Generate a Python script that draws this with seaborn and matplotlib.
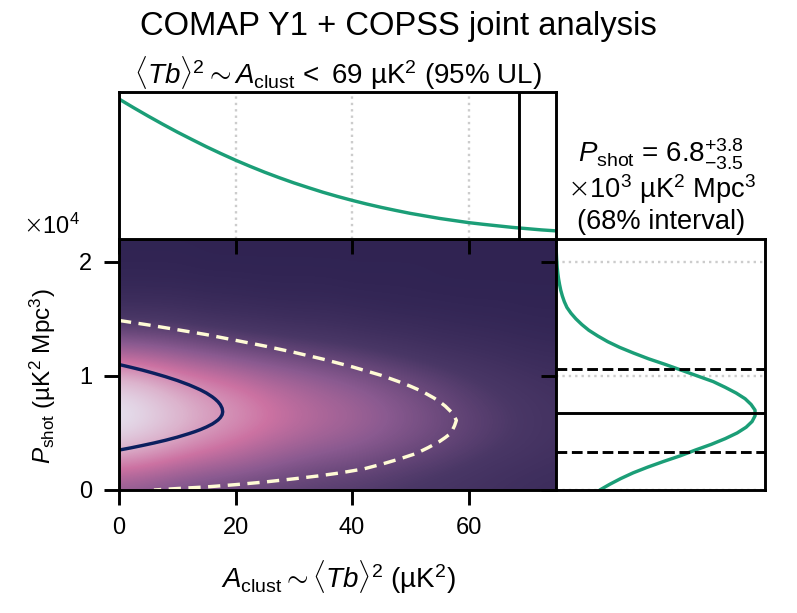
import numpy as np
import matplotlib
matplotlib.use('Agg')
import matplotlib.pyplot as plt
import seaborn as sns

# 1D marginal for A_clust (normalised)
a_grid = [0, 2.5, 5, 7.5, 10, 12.5, 15, 17.5, 20, 22.5, 25, 27.5, 30, 32.5, 35, 37.5, 40, 42.5, 45, 47.5, 50, 52.5, 55, 57.5, 60, 62.5, 65, 67.5, 70, 72.5, 75]
a_post = [1.0, .938, .878, .82, .764, .711, .659, .61, .563, .519, .477, .438, .401, .367, .334, .304, .276, .25, .226, .204, .183, .165, .147, .132, .117, .105, .094, .083, .074, .065, .058]

# 1D marginal for P_shot (units of 1e4)
p_grid = [0, .05, .1, .15, .2, .25, .3, .35, .4, .45, .5, .55, .6, .65, .7, .75, .8, .85, .9, .95, 1.0, 1.05, 1.1, 1.15, 1.2, 1.25, 1.3, 1.35, 1.4, 1.45, 1.5, 1.55, 1.6, 1.65, 1.7, 1.75, 1.8, 1.85, 1.9, 1.95, 2.0, 2.1, 2.2]
p_post = [.22, .27, .325, .387, .46, .54, .625, .70, .78, .85, .91, .955, .985, 1.0, 1.0, .98, .95, .905, .85, .79, .71, .63, .55, .465, .39, .32, .26, .21, .165, .13, .10, .075, .055, .042, .032, .024, .018, .013, .009, .006, .004, .001, 0]

# joint posterior, colour level by row (P_shot 0 to 2.2 in steps of 0.2), columns at A_clust 0, 5, ... 75
joint_levels = [
    [.42, .39, .35, .32, .30, .28, .26, .24, .23, .21, .19, .17, .15, .13, .11, .10],
    [.62, .58, .52, .475, .44, .40, .36, .33, .31, .28, .25, .22, .19, .16, .14, .12],
    [.85, .79, .72, .65, .59, .53, .48, .44, .41, .37, .33, .29, .25, .21, .18, .15],
    [.99, .92, .83, .75, .69, .62, .56, .51, .47, .42, .37, .32, .27, .23, .19, .16],
    [.96, .89, .80, .73, .67, .60, .54, .49, .45, .40, .35, .30, .25, .21, .18, .15],
    [.78, .73, .65, .59, .54, .48, .44, .40, .36, .32, .28, .24, .20, .17, .14, .12],
    [.50, .47, .43, .39, .35, .32, .29, .26, .24, .21, .18, .15, .13, .11, .09, .08],
    [.28, .27, .25, .22, .20, .18, .16, .15, .13, .11, .10, .08, .07, .06, .05, .04],
    [.13, .13, .12, .10, .09, .08, .07, .07, .06, .05, .04, .04, .03, .03, .02, .02],
    [.05, .05, .05, .04, .04, .03, .03, .03, .02, .02, .02, .01, .01, .01, .01, .01],
    [.02, .02, .02, .01, .01, .01, .01, .01, .01, .01, .01, .01, .01, .01, .01, .01],
    [.01, .01, .01, .01, .01, .01, .01, .01, .01, .01, .01, .01, .01, .01, .01, .01],
]
level_colors = ['#2f2352', '#4a3766', '#8a5a90', '#cc72a2', '#dcb4cd', '#e6e6f2']

# contours
c68_a = [0, 2, 4, 6, 8, 10, 12, 13, 14, 15, 16, 16.5, 17, 17.4, 17.7, 17.8, 17.7, 17.4, 17, 16.5, 16, 15, 14, 13, 12, 10, 8, 6, 4, 2, 0]
c68_p = [1.10, 1.076, 1.051, 1.023, .993, .960, .922, .900, .877, .850, .817, .797, .773, .747, .716, .685, .660, .635, .614, .595, .578, .552, .530, .511, .494, .463, .436, .412, .390, .369, .35]
c95_a = [0, 5, 10, 15, 20, 25, 30, 35, 40, 45, 48, 50, 52, 54, 55, 56, 57, 57.5, 57.9, 57.6, 57, 56, 55, 53, 51, 48, 45, 42, 38, 34, 30, 25, 20, 15, 10, 6]
c95_p = [1.486, 1.447, 1.405, 1.362, 1.312, 1.262, 1.207, 1.147, 1.08, 1.005, .95, .91, .865, .808, .775, .735, .685, .65, .61, .565, .50, .46, .425, .37, .32, .27, .225, .185, .15, .122, .098, .07, .047, .027, .013, 0]

a_limit = 68.7
p_best = 0.676
p_low = 0.33
p_high = 1.057
a_ticks = [0, 20, 40, 60]
p_ticks = [0, 1, 2]

GREEN = '#1b9e77'
W, H = 797, 613
LW = 2.9 * 72 / 100
CURVE_LW = 3.4 * 72 / 100

sns.set_style('ticks')
plt.rcParams['font.family'] = ['Liberation Sans', 'DejaVu Sans']
plt.rcParams['mathtext.fontset'] = 'custom'
plt.rcParams['mathtext.rm'] = 'Liberation Sans'
plt.rcParams['mathtext.it'] = 'Liberation Sans:italic'
plt.rcParams['mathtext.bf'] = 'Liberation Sans:bold'
plt.rcParams['mathtext.sf'] = 'DejaVu Sans:light'
plt.rcParams['axes.linewidth'] = LW
plt.rcParams['axes.edgecolor'] = 'black'
plt.rcParams['text.color'] = 'black'
plt.rcParams['axes.labelcolor'] = 'black'
plt.rcParams['xtick.color'] = 'black'
plt.rcParams['ytick.color'] = 'black'


def box(x0, y0, x1, y1):
    return [x0 / W, 1 - y1 / H, (x1 - x0) / W, (y1 - y0) / H]


fig = plt.figure(figsize=(W / 100, H / 100), dpi=100)
ax = fig.add_axes(box(119, 239, 556, 490))
ax_top = fig.add_axes(box(119, 92, 556, 239), sharex=ax)
ax_right = fig.add_axes(box(556, 239, 765, 490), sharey=ax)

# joint posterior
cmap = sns.blend_palette(level_colors, as_cmap=True)
ax.imshow(joint_levels, origin='lower', aspect='auto', cmap=cmap, vmin=0, vmax=1,
          extent=(-2.5, 77.5, -0.1, 2.3), interpolation='bicubic')
sns.lineplot(x=c95_a, y=c95_p, ax=ax, sort=False, estimator=None, color='#fffbd5', lw=CURVE_LW, linestyle=(0, (3.6, 2.2)))
sns.lineplot(x=c68_a, y=c68_p, ax=ax, sort=False, estimator=None, color='#0b1f5e', lw=CURVE_LW)
ax.set_xlim(0, 75)
ax.set_ylim(0, 2.2)
ax.set_xticks(a_ticks)
ax.set_yticks(p_ticks)
ax.tick_params(length=10.5, width=LW, labelsize=17, pad=9)
ax.set_xlabel('')
ax.set_ylabel('')

# top marginal
sns.lineplot(x=a_grid, y=a_post, ax=ax_top, color=GREEN, lw=CURVE_LW)
ax_top.axvline(a_limit, color='black', lw=LW)
ax_top.grid(True, axis='x', color='0.8', ls=(0, (1, 1.7)), lw=1.7)
ax_top.set_ylim(0, 1.05)
ax_top.set_yticks([])
ax_top.tick_params(axis='x', length=10.5, width=LW, labelbottom=False)

# right marginal
sns.lineplot(x=p_post, y=p_grid, ax=ax_right, orient='y', color=GREEN, lw=CURVE_LW)
ax_right.axhline(p_best, color='black', lw=LW)
ax_right.axhline(p_low, color='black', lw=LW, ls='--')
ax_right.axhline(p_high, color='black', lw=LW, ls='--')
ax_right.grid(True, axis='y', color='0.8', ls=(0, (1, 1.7)), lw=1.7)
ax_right.set_xlim(0, 1.05)
ax_right.set_xticks([])
ax_right.tick_params(axis='y', length=10.5, width=LW, labelleft=False)

fig.text(398 / W, 1 - 26 / H, 'COMAP Y1 + COPSS joint analysis', fontsize=23.6, ha='center', va='center')
fig.text(338 / W, 1 - 73 / H, r'$\langle Tb\rangle^2 \sim A_{\mathrm{clust}}\,<$ 69 µK$^2$ (95% UL)',
         fontsize=20, ha='center', va='center')
fig.text(661 / W, 1 - 154 / H, r'$P_{\mathrm{shot}}$ = 6.8$^{+3.8}_{-3.5}$', fontsize=20, ha='center', va='center')
fig.text(661 / W, 1 - 189 / H, r'$\mathsf{\times}10^3$ µK$^2$ Mpc$^3$', fontsize=19.6, ha='center', va='center')
fig.text(661 / W, 1 - 222 / H, '(68% interval)', fontsize=19.6, ha='center', va='center')
fig.text(52 / W, 1 - 226 / H, r'$\mathsf{\times}10^4$', fontsize=17, ha='center', va='center')
fig.text(338 / W, 1 - 577 / H, r'$A_{\mathrm{clust}} \sim \langle Tb\rangle^2$ (µK$^2$)', fontsize=20, ha='center', va='center')
fig.text(43 / W, 1 - 376 / H, r'$P_{\mathrm{shot}}$ (µK$^2$ Mpc$^3$)', fontsize=17.5, rotation=90, ha='center', va='center')

fig.savefig('out.png', dpi=100)
